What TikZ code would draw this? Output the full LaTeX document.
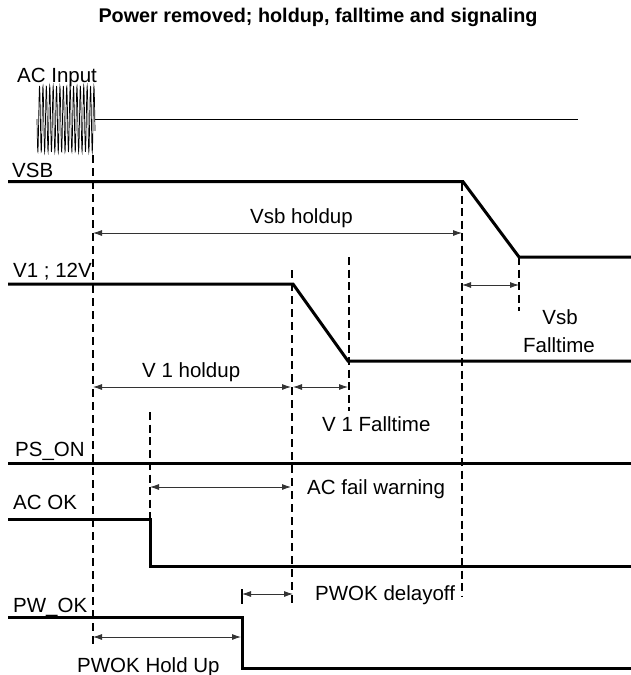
\documentclass[tikz,border=0pt]{standalone}
\usepackage{fontspec}
\setmainfont{Liberation Sans}
\setsansfont{Liberation Sans}
\usetikzlibrary{arrows.meta}
\begin{document}
\begin{tikzpicture}[x=1pt,y=-1pt,
  sig/.style={line width=3pt,line join=miter},
  thindash/.style={line width=1.1pt,dash pattern=on 8pt off 5pt},
  thickdash/.style={line width=2pt,dash pattern=on 8pt off 4.5pt},
  dim/.style={line width=0.8pt,black!80,{Latex[length=9pt,width=6pt]}-{Latex[length=9pt,width=6pt]}},
  lbl/.style={inner sep=0pt,anchor=base west,font=\fontsize{20.5}{24}\selectfont},
  lblc/.style={inner sep=0pt,anchor=base,font=\fontsize{20.5}{24}\selectfont}]
\useasboundingbox (0,0) rectangle (631,675);
% title
\node[inner sep=0pt,anchor=base,font=\fontsize{19.8}{23}\selectfont\bfseries] (title) at (318,22) {Power removed; holdup, falltime and signaling};
% labels
\node[lbl] (lac) at (17,82) {AC Input};
\node[lbl] (lvsb) at (12,177) {VSB};
\node[lbl] (lv1) at (13,277) {V1 ; 12V};
\node[lbl] (lps) at (15,456) {PS\_ON};
\node[lbl] (lacok) at (13,509) {AC OK};
\node[lbl] (lpw) at (13,612) {PW\_OK};
% coordinates
\coordinate (acA) at (95,119);
\coordinate (acB) at (578,119);
\coordinate (vs0) at (8,181.7);
\coordinate (vs1) at (463,181.7);
\coordinate (vs2) at (519,257);
\coordinate (vs3) at (631,257);
\coordinate (v10) at (8,284);
\coordinate (v11) at (293,284);
\coordinate (v12) at (348,361);
\coordinate (v13) at (631,361);
\coordinate (ps0) at (8,463.5);
\coordinate (ps1) at (631,463.5);
\coordinate (ao0) at (8,519);
\coordinate (ao1) at (150,519);
\coordinate (ao2) at (150,566);
\coordinate (ao3) at (631,566);
\coordinate (pw0) at (8,617.5);
\coordinate (pw1) at (242,617.5);
\coordinate (pw2) at (242,668);
\coordinate (pw3) at (631,668);
% AC burst
\draw[line width=0.7pt] plot[domain=37:95,samples=320] (\x,{119+33*sin(((\x-37)/3.4)*360)});
\draw[line width=1pt] (acA) -- (acB);
% signals
\draw[sig] (vs0) -- (vs1) -- (vs2) -- (vs3);
\draw[sig] (v10) -- (v11) -- (v12) -- (v13);
\draw[sig] (ps0) -- (ps1);
\draw[sig] (ao0) -- (ao1) -- (ao2) -- (ao3);
\draw[sig] (pw0) -- (pw1) -- (pw2) -- (pw3);
% dashed markers
\coordinate (d1a) at (93,155);  \coordinate (d1b) at (93,647);
\coordinate (d2a) at (292,270); \coordinate (d2b) at (292,605);
\coordinate (d3a) at (150,412); \coordinate (d3b) at (150,519);
\coordinate (d4a) at (349,257); \coordinate (d4b) at (349,411);
\coordinate (d5a) at (462,183); \coordinate (d5b) at (462,596);
\coordinate (d6a) at (519,257); \coordinate (d6b) at (519,311);
\coordinate (d7a) at (242,589); \coordinate (d7b) at (242,604);
\draw[thindash] (d1a) -- (d1b);
\draw[thindash] (d2a) -- (d2b);
\draw[thickdash] (d3a) -- (d3b);
\draw[thickdash] (d4a) -- (d4b);
\draw[thickdash] (d5a) -- (d5b);
\draw[thickdash] (d6a) -- (d6b);
\draw[line width=2pt] (d7a) -- (d7b);
% dimension arrows
\draw[dim] (93,233) -- (462,233);
\draw[dim] (462,285) -- (519,285);
\draw[dim] (93,387) -- (291,387);
\draw[dim] (293,387) -- (348,387);
\draw[dim] (150,487) -- (291,487);
\draw[dim] (242,594) -- (293,594);
\draw[dim] (93,637) -- (241,637);
% dimension labels
\node[lbl] (tvsbh) at (250,223) {Vsb holdup};
\node[lblc] (tvsbf1) at (560,324) {Vsb};
\node[lblc] (tvsbf2) at (559,352) {Falltime};
\node[lbl] (tv1h) at (142,377) {V 1 holdup};
\node[lbl] (tv1f) at (322,431) {V 1 Falltime};
\node[lbl] (tacf) at (307,494) {AC fail warning};
\node[lbl] (tpwd) at (315,600) {PWOK delayoff};
\node[lbl] (tpwh) at (77,672) {PWOK Hold Up};
\end{tikzpicture}
\end{document}
